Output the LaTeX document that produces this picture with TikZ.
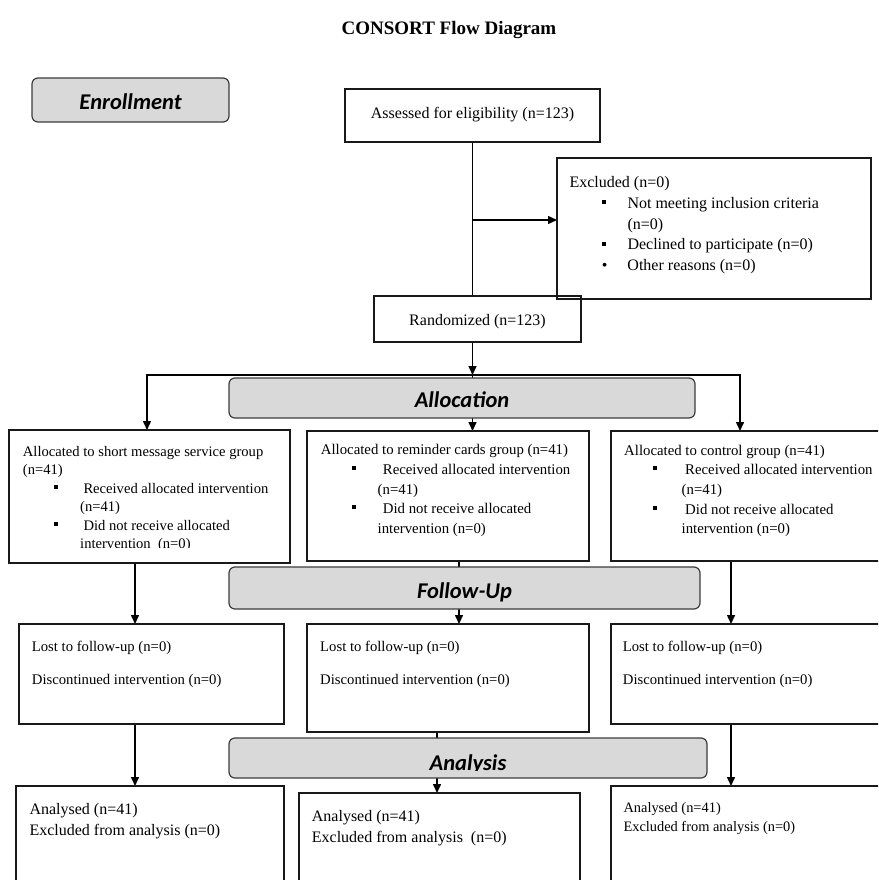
\documentclass[tikz,border=0pt]{standalone}
\usepackage{fontspec}
\setmainfont{Liberation Serif}
\newfontfamily\bannerfont{Carlito}
\usetikzlibrary{arrows.meta}
\pgfdeclarelayer{bg}
\pgfsetlayers{bg,main}
\definecolor{bannergray}{HTML}{D9D9D9}
\definecolor{edgegray}{HTML}{3C3C3C}
\newcommand\sqbul{\rule[4.5pt]{4pt}{4pt}}
\newcommand\sqbulB{\rule[4pt]{4.2pt}{4.2pt}}
\begin{document}
\begin{tikzpicture}[x=1pt,y=-1pt,
  box/.style={draw=black!90, line width=1.2pt, fill=white, inner sep=0pt, outer sep=0pt},
  ban/.style={draw=edgegray, fill=bannergray, line width=1.2pt, rounded corners=6pt, inner sep=0pt, outer sep=0pt},
  bantxt/.style={anchor=base, inner sep=0pt, font={\bannerfont\bfseries\itshape\fontsize{22.5}{27}\selectfont}},
  lbl/.style={inner sep=0pt, align=left, anchor=north west},
  conn/.style={line width=1.5pt, draw=black},
  arr/.style={conn, -{Triangle[length=9pt,width=8pt]}}]
\useasboundingbox (0,0) rectangle (878,880);
\clip (0,0) rectangle (878,880);

% title
\node[anchor=base, inner sep=0pt, font=\bfseries\fontsize{19}{22}\selectfont] (title) at (449,34.5) {CONSORT Flow Diagram};

% boxes
\node[box, minimum width=255pt, minimum height=53pt] (assess) at (472.5,115.5) {};
\node[box, minimum width=314pt, minimum height=141pt] (excl) at (714,228.5) {};
\node[box, fill=none, minimum width=207pt, minimum height=46pt] (rand) at (477.5,319) {};
\node[box, minimum width=281pt, minimum height=133pt] (sms) at (149.5,496.5) {};
\node[box, minimum width=282pt, minimum height=130pt] (rem) at (448,496) {};
\node[box, minimum width=271pt, minimum height=130pt] (ctrl) at (746.5,496) {};
\node[box, minimum width=265pt, minimum height=100pt] (fl) at (151.5,674) {};
\node[box, minimum width=282pt, minimum height=108pt] (fm) at (448,678) {};
\node[box, minimum width=271pt, minimum height=100pt] (fr) at (746.5,674) {};
\node[box, minimum width=268pt, minimum height=104pt] (al) at (150,838) {};
\node[box, minimum width=281pt, minimum height=97pt] (am) at (439.5,841.5) {};
\node[box, minimum width=271pt, minimum height=104pt] (ar) at (746.5,838) {};

% banners
\node[ban, minimum width=197pt, minimum height=44pt] (benr) at (130.5,100) {};
\node[ban, minimum width=466pt, minimum height=40pt] (ball) at (462,398) {};
\node[ban, minimum width=471pt, minimum height=42pt] (bfol) at (464.5,588) {};
\node[ban, minimum width=478pt, minimum height=40pt] (bana) at (468,758) {};

\node[bantxt] (tenr) at (130.5,110) {Enrollment};
\node[bantxt] (tall) at (462,407) {Allocation};
\begin{scope}
\clip (229,567) rectangle (700,601);
\node[bantxt] (tfol) at (464.5,598) {Follow-Up};
\end{scope}
\begin{scope}
\clip (229,738) rectangle (707,770.5);
\node[bantxt] (tana) at (468,770) {Analysis};
\end{scope}

% texts
\node[anchor=base, inner sep=0pt, font=\fontsize{16}{19}\selectfont] (tass) at (472.5,118) {Assessed for eligibility (n=123)};
\node[anchor=base, inner sep=0pt, font=\fontsize{16}{19}\selectfont] (trand) at (477.5,325) {Randomized (n=123)};

\node[lbl, font=\fontsize{16}{20.7}\selectfont] (texcl) at (569.3,173.01) {\strut Excluded (n=0)\\
\strut\hspace*{32.4pt}\makebox[25.6pt][l]{\sqbulB}Not meeting inclusion criteria\\
\strut\hspace*{58pt}(n=0)\\
\strut\hspace*{32.4pt}\makebox[25.6pt][l]{\sqbulB}Declined to participate (n=0)\\
\strut\hspace*{32.4pt}\makebox[25.6pt][l]{\textbullet}Other reasons (n=0)};

\begin{scope}
\clip (0,420) rectangle (300,547);
\node[lbl, font=\fontsize{14.6}{18.5}\selectfont] (tsms) at (22.7,443.05) {\strut Allocated to short message service group\\
\strut (n=41)\\
\strut\hspace*{30.6pt}\makebox[30pt][l]{\sqbul}Received allocated intervention\\
\strut\hspace*{57.3pt}(n=41)\\
\strut\hspace*{30.6pt}\makebox[30pt][l]{\sqbul}Did not receive allocated\\
\strut\hspace*{57.3pt}intervention~ (n=0)};
\end{scope}

\node[lbl, font=\fontsize{14.8}{19.6}\selectfont] (trem) at (320.7,440.98) {\strut Allocated to reminder cards group (n=41)\\
\strut\hspace*{31pt}\makebox[31pt][l]{\sqbul}Received allocated intervention\\
\strut\hspace*{56.8pt}(n=41)\\
\strut\hspace*{31pt}\makebox[31pt][l]{\sqbul}Did not receive allocated\\
\strut\hspace*{56.8pt}intervention (n=0)};

\node[lbl, font=\fontsize{14.8}{19.6}\selectfont] (tctrl) at (624,441.28) {\strut Allocated to control group (n=41)\\
\strut\hspace*{28.7pt}\makebox[32.3pt][l]{\sqbul}Received allocated intervention\\
\strut\hspace*{57.5pt}(n=41)\\
\strut\hspace*{28.7pt}\makebox[32.3pt][l]{\sqbul}Did not receive allocated\\
\strut\hspace*{57.5pt}intervention (n=0)};

\node[lbl, font=\fontsize{14.7}{32.3}\selectfont] (tfl) at (31.7,629.09) {\strut Lost to follow-up (n=0)\\ \strut Discontinued intervention (n=0)};
\node[lbl, font=\fontsize{14.7}{32.3}\selectfont] (tfm) at (320,629.09) {\strut Lost to follow-up (n=0)\\ \strut Discontinued intervention (n=0)};
\node[lbl, font=\fontsize{14.7}{32.3}\selectfont] (tfr) at (622.7,629.09) {\strut Lost to follow-up (n=0)\\ \strut Discontinued intervention (n=0)};

\node[lbl, font=\fontsize{16}{21.4}\selectfont] (tal) at (29.3,799.32) {\strut Analysed (n=41)\\ \strut Excluded from analysis (n=0)};
\node[lbl, font=\fontsize{16}{21.7}\selectfont] (tam) at (311.7,805.81) {\strut Analysed (n=41)\\ \strut Excluded from analysis~ (n=0)};
\node[lbl, font=\fontsize{14.4}{19}\selectfont] (tar) at (623.3,799.4) {\strut Analysed (n=41)\\ \strut Excluded from analysis (n=0)};

% connectors
\begin{pgfonlayer}{bg}
\coordinate (exin) at (557,220);
\coordinate (split) at (472.5,375);
\coordinate (sl) at (147,375);
\coordinate (sr) at (740,375);
\coordinate (cl) at (135,600);
\coordinate (cm) at (459,600);
\coordinate (cn) at (437,760);
\coordinate (cr) at (731,600);
\draw[conn] (assess.south) -- (assess.south |- rand.north);
\draw[arr] (assess.south |- exin) -- (exin);
\draw[arr] (rand.south -| split) -- (split);
\draw[conn, line cap=rect] (sl) -- (sr);
\draw[arr] (sl) -- (sl |- sms.north);
\draw[arr] (split) -- (split |- rem.north);
\draw[arr] (sr) -- (sr |- ctrl.north);
\draw[arr] (sms.south -| cl) -- (fl.north -| cl);
\draw[arr] (rem.south -| cm) -- (fm.north -| cm);
\draw[arr] (ctrl.south -| cr) -- (fr.north -| cr);
\draw[arr] (fl.south -| cl) -- (al.north -| cl);
\draw[arr] (fm.south -| cn) -- (am.north -| cn);
\draw[arr] (fr.south -| cr) -- (ar.north -| cr);
\end{pgfonlayer}
\end{tikzpicture}
\end{document}
